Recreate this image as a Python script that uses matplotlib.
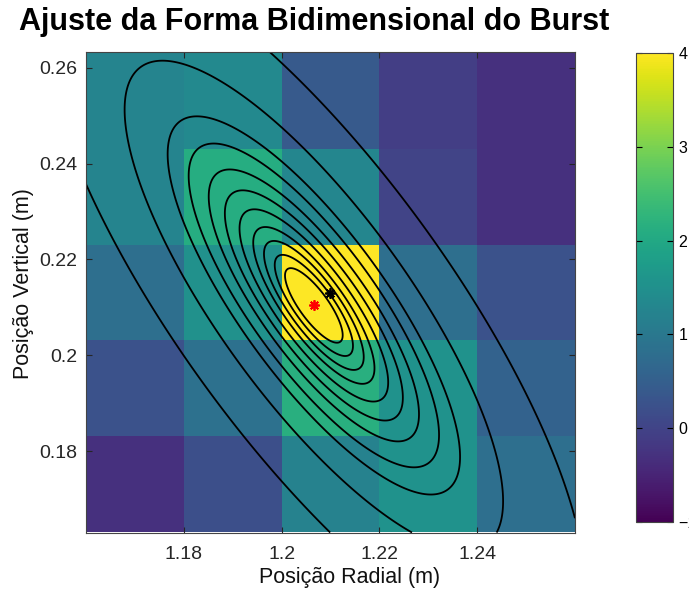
import numpy as np
import matplotlib
matplotlib.use("Agg")
import matplotlib.pyplot as plt

plt.rcParams["font.family"] = ["Liberation Sans", "DejaVu Sans"]

# centros das celulas (m)
x_centers = [1.17, 1.19, 1.21, 1.23, 1.25]
y_centers = [0.1731, 0.1931, 0.2131, 0.2331, 0.2531]

# valores medidos, linhas de baixo para cima
burst = [
    [-0.30, 0.20, 1.20, 1.55, 0.80],
    [0.25, 0.85, 2.15, 1.55, 0.55],
    [0.80, 1.50, 4.00, 0.80, 0.25],
    [1.25, 2.10, 1.30, 0.00, -0.30],
    [1.25, 1.35, 0.40, -0.10, -0.30],
]

# parametros do ajuste gaussiano
fit_x0 = 1.2066
fit_y0 = 0.2104
fit_sx = 0.0100
fit_sy = 0.0132
fit_rho = -0.80
# niveis de contorno (raio de Mahalanobis)
contour_levels = [0.59, 0.80, 1.02, 1.24, 1.52, 1.82, 2.15, 2.56, 2.99, 3.87, 5.55]

peak_x, peak_y = 1.2100, 0.2129

fig = plt.figure(figsize=(6.89, 5.90), dpi=100)
ax = fig.add_axes([0.1248, 0.0966, 0.7097, 0.8153])
cax = fig.add_axes([0.923, 0.1153, 0.0537, 0.795])

mesh = ax.pcolormesh(x_centers, y_centers, np.array(burst), shading="nearest",
                     cmap="viridis", vmin=-1, vmax=4)

gx, gy = np.meshgrid(np.linspace(1.16, 1.26, 400), np.linspace(0.163, 0.2633, 400))
dx = (gx - fit_x0) / fit_sx
dy = (gy - fit_y0) / fit_sy
r = np.sqrt((dx**2 - 2 * fit_rho * dx * dy + dy**2) / (1 - fit_rho**2))
ax.contour(gx, gy, r, levels=contour_levels, colors="black", linewidths=1.3)

ax.plot(peak_x, peak_y, marker=(8, 2, 0), color="black", markersize=7.5, mew=1.3, ls="none")
ax.plot(fit_x0, fit_y0, marker=(8, 2, 0), color="red", markersize=7.5, mew=1.3, ls="none")

ax.set_xlim(1.16, 1.26)
ax.set_ylim(0.1629, 0.2633)
ax.set_xticks([1.18, 1.2, 1.22, 1.24])
ax.set_xticklabels(["1.18", "1.2", "1.22", "1.24"])
ax.set_yticks([0.18, 0.2, 0.22, 0.24, 0.26])
ax.set_yticklabels(["0.18", "0.2", "0.22", "0.24", "0.26"])
ax.tick_params(direction="in", top=True, right=True, length=4, width=0.8,
               labelsize=14, colors="#262626")
ax.tick_params(axis="x", pad=9)
ax.tick_params(axis="y", pad=6)
for s in ax.spines.values():
    s.set_color("#444444")
    s.set_linewidth(0.8)

ax.set_xlabel("Posição Radial (m)", fontsize=15.5, color="#111111")
ax.set_ylabel("Posição Vertical (m)", fontsize=15.5, color="#111111")
ax.xaxis.set_label_coords(0.54, -0.070)
ax.yaxis.set_label_coords(-0.106, 0.518)
fig.text(0.456, 0.963, "Ajuste da Forma Bidimensional do Burst", ha="center", va="center",
         fontsize=22, fontweight="bold")

cb = fig.colorbar(mesh, cax=cax, ticks=[-1, 0, 1, 2, 3, 4])
cb.ax.tick_params(direction="in", left=True, right=True, length=4, width=0.8,
                  labelsize=11.5, pad=4)
cb.outline.set_edgecolor("#444444")
cb.outline.set_linewidth(0.8)

fig.savefig("out.png", dpi=100)
